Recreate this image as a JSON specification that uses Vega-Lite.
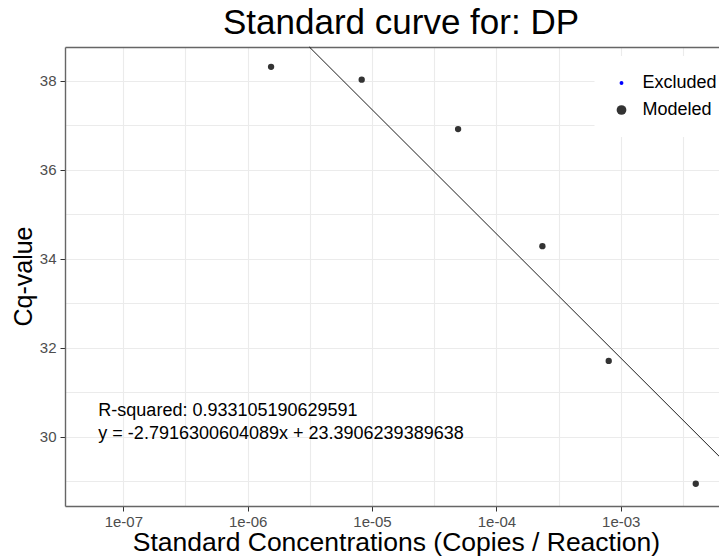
{
  "$schema": "https://vega.github.io/schema/vega-lite/v6.json",
  "autosize": {"type": "none"},
  "padding": {"left": 65, "top": 47, "right": 0, "bottom": 50},
  "width": 654,
  "height": 459,
  "background": "white",
  "title": {
    "text": "Standard curve for: DP",
    "font": "Liberation Sans",
    "fontSize": 35,
    "fontWeight": "normal",
    "color": "black",
    "anchor": "middle",
    "frame": "group",
    "baseline": "alphabetic",
    "dx": 9,
    "dy": 31,
    "offset": 7
  },
  "datasets": {
    "points": [
      {"conc": 1.542e-6, "cq": 38.31, "status": "Modeled"},
      {"conc": 8.26e-6, "cq": 38.02, "status": "Modeled"},
      {"conc": 4.92e-5, "cq": 36.91, "status": "Modeled"},
      {"conc": 2.344e-4, "cq": 34.28, "status": "Modeled"},
      {"conc": 8.0e-4, "cq": 31.70, "status": "Modeled"},
      {"conc": 4.01e-3, "cq": 28.94, "status": "Modeled"}
    ],
    "fit": [
      {"conc": 3.1346e-6, "cq": 38.755},
      {"conc": 6.166e-3, "cq": 29.560}
    ],
    "notes": [
      {"conc": 6.3e-8, "cq": 30.463, "label": "R-squared: 0.933105190629591"},
      {"conc": 6.3e-8, "cq": 29.953, "label": "y = -2.7916300604089x + 23.3906239389638"}
    ]
  },
  "layer": [
    {
      "data": {"name": "points"},
      "mark": {"type": "point", "filled": true, "shape": "circle", "size": 40, "opacity": 1, "strokeWidth": 0},
      "encoding": {
        "x": {
          "field": "conc", "type": "quantitative",
          "scale": {"type": "log", "domain": [3.397e-8, 6.166e-3], "nice": false, "zero": false},
          "axis": {
            "orient": "bottom",
            "values": [1e-7, 1e-6, 1e-5, 1e-4, 1e-3],
            "labelExpr": "'1e-0' + format(-round(log(datum.value)/LN10), 'd')",
            "title": "Standard Concentrations (Copies / Reaction)",
            "titleX": 331, "titleY": 44, "titleBaseline": "alphabetic", "titleAlign": "center",
            "titleFont": "Liberation Sans", "titleFontSize": 26.5, "titleFontWeight": "normal", "titleColor": "black",
            "labelFont": "Liberation Sans", "labelFontSize": 15, "labelColor": "#4D4D4D", "labelPadding": 3,
            "tickColor": "#333333", "tickSize": 5, "tickWidth": 1,
            "domainColor": "#666666", "domainWidth": 1.4,
            "grid": true, "gridColor": "#EBEBEB", "gridWidth": 1.1
          }
        },
        "y": {
          "field": "cq", "type": "quantitative",
          "scale": {"domain": [28.44, 38.755], "nice": false, "zero": false},
          "axis": {
            "orient": "left",
            "values": [30, 32, 34, 36, 38],
            "title": "Cq-value",
            "titleX": -34, "titleY": 229, "titleBaseline": "alphabetic", "titleAlign": "center", "titleAngle": 270,
            "titleFont": "Liberation Sans", "titleFontSize": 25, "titleFontWeight": "normal", "titleColor": "black",
            "labelFont": "Liberation Sans", "labelFontSize": 15, "labelColor": "#4D4D4D", "labelPadding": 4,
            "tickColor": "#333333", "tickSize": 5, "tickWidth": 1,
            "domainColor": "#666666", "domainWidth": 1.4,
            "grid": true, "gridColor": "#EBEBEB", "gridWidth": 1.1
          }
        },
        "color": {
          "field": "status", "type": "nominal",
          "scale": {"domain": ["Excluded", "Modeled"], "range": ["#0000FF", "#333333"]},
          "legend": {
            "orient": "none", "legendX": 529.5, "legendY": 9,
            "title": null,
            "fillColor": "white", "padding": 18,
            "labelFont": "Liberation Sans", "labelFontSize": 18, "labelColor": "black",
            "labelOffset": 12, "rowPadding": 9,
            "symbolType": "circle", "symbolStrokeWidth": 0, "symbolOpacity": 1,
            "encode": {"symbols": {"update": {"size": {"signal": "datum.value === 'Modeled' ? 95 : 15"}}}}
          }
        }
      }
    },
    {
      "data": {"name": "fit"},
      "mark": {"type": "line", "color": "#000000", "strokeWidth": 0.9},
      "encoding": {
        "x": {
          "field": "conc", "type": "quantitative",
          "scale": {"type": "log", "domain": [3.397e-8, 6.166e-3], "nice": false, "zero": false},
          "axis": {
            "orient": "top",
            "values": [3.1623e-7, 3.1623e-6, 3.1623e-5, 3.1623e-4, 3.1623e-3],
            "labels": false, "ticks": false, "title": null,
            "domain": true, "domainColor": "#666666", "domainWidth": 1.4,
            "grid": true, "gridColor": "#EBEBEB", "gridWidth": 1.1
          }
        },
        "y": {
          "field": "cq", "type": "quantitative",
          "scale": {"domain": [28.44, 38.755], "nice": false, "zero": false},
          "axis": {
            "orient": "right",
            "values": [29, 31, 33, 35, 37],
            "labels": false, "ticks": false, "title": null, "domain": false,
            "grid": true, "gridColor": "#EBEBEB", "gridWidth": 1.1
          }
        }
      }
    },
    {
      "data": {"name": "notes"},
      "mark": {"type": "text", "align": "left", "baseline": "alphabetic", "font": "Liberation Sans", "fontSize": 18, "color": "black"},
      "encoding": {
        "x": {"field": "conc", "type": "quantitative", "axis": null},
        "y": {"field": "cq", "type": "quantitative", "axis": null},
        "text": {"field": "label"}
      }
    }
  ],
  "resolve": {"axis": {"x": "independent", "y": "independent"}},
  "config": {
    "view": {"stroke": null},
    "font": "Liberation Sans"
  }
}
